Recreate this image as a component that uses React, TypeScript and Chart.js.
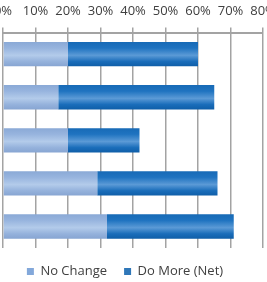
import React, { useEffect, useRef } from "react";
import { Chart, registerables } from "chart.js";

Chart.register(...registerables);

const categories = ["Item 1", "Item 2", "Item 3", "Item 4", "Item 5"];
const seriesNames = ["No Change", "Do More (Net)"];
const noChange = [20, 17, 20, 29, 32];
const doMore = [40, 48, 22, 37, 39];
const xTicks = [0, 10, 20, 30, 40, 50, 60, 70, 80];

const BAR_PCT = 0.565;

const lightStops: [number, string][] = [
  [0, "#8aa9d6"],
  [0.25, "#97b4de"],
  [0.55, "#b3cbea"],
  [0.8, "#95b2dc"],
  [1, "#87a5d2"],
];
const darkStops: [number, string][] = [
  [0, "#176ab6"],
  [0.25, "#1f73c0"],
  [0.55, "#5b9ad6"],
  [0.8, "#1a6dba"],
  [1, "#0f5ea8"],
];

function stripeGradient(chart: any, stops: [number, string][]) {
  const area = chart.chartArea;
  if (!area) return stops[1][1];
  const g = chart.ctx.createLinearGradient(0, area.top, 0, area.bottom);
  const n = categories.length;
  for (let i = 0; i < n; i++) {
    const start = (i + (1 - BAR_PCT) / 2) / n;
    const end = (i + (1 + BAR_PCT) / 2) / n;
    for (const [t, c] of stops) g.addColorStop(start + t * (end - start), c);
  }
  return g;
}

const legendColors = ["#83a8da", "#2f77b8"];

const legendShift = {
  id: "legendShift",
  afterLayout(chart: any) {
    const l = chart.legend;
    if (l) {
      l.left -= 8;
      l.right -= 8;
    }
  },
};

export default function App() {
  const ref = useRef<HTMLCanvasElement | null>(null);

  useEffect(() => {
    document.body.style.margin = "0";
    document.body.style.overflow = "hidden";
    const canvas = ref.current;
    if (!canvas) return;
    const chart = new Chart(canvas, {
      type: "bar",
      data: {
        labels: categories,
        datasets: [
          {
            label: seriesNames[0],
            data: noChange,
            backgroundColor: (ctx: any) => stripeGradient(ctx.chart, lightStops),
            borderWidth: 0,
            barPercentage: BAR_PCT,
            categoryPercentage: 1,
          },
          {
            label: seriesNames[1],
            data: doMore,
            backgroundColor: (ctx: any) => stripeGradient(ctx.chart, darkStops),
            borderWidth: 0,
            barPercentage: BAR_PCT,
            categoryPercentage: 1,
          },
        ],
      },
      plugins: [legendShift],
      options: {
        indexAxis: "y",
        animation: false,
        responsive: true,
        maintainAspectRatio: false,
        layout: { padding: { left: 3, right: 4, top: -6, bottom: -6 } },
        scales: {
          x: {
            position: "top",
            stacked: true,
            min: xTicks[0],
            max: xTicks[xTicks.length - 1],
            afterBuildTicks: (scale: any) => {
              scale.ticks = xTicks.map((v) => ({ value: v }));
            },
            afterFit: (scale: any) => {
              scale.paddingLeft = 0;
              scale.paddingRight = 0;
            },
            grid: {
              color: "#a3a3a3",
              lineWidth: 1.5,
              tickLength: 5,
              drawTicks: true,
            },
            border: { display: true, color: "#a3a3a3", width: 2 },
            ticks: {
              autoSkip: false,
              maxRotation: 0,
              padding: 9,
              color: "#404040",
              font: { family: "Open Sans", size: 13 },
              callback: (v: any) => v + "%",
            },
          },
          y: {
            stacked: true,
            display: false,
          },
        },
        plugins: {
          tooltip: { enabled: false },
          legend: {
            position: "bottom",
            labels: {
              boxWidth: 7,
              boxHeight: 7,
              padding: 17,
              color: "#404040",
              font: { family: "Open Sans", size: 13 },
              generateLabels: (c: any) => {
                const items = Chart.defaults.plugins.legend.labels.generateLabels(c);
                return items.map((it: any, i: number) => ({
                  ...it,
                  fillStyle: legendColors[i],
                  strokeStyle: legendColors[i],
                  lineWidth: 0,
                }));
              },
            },
          },
        },
      },
    });
    return () => chart.destroy();
  }, []);

  return (
    <div style={{ width: 267, height: 282, position: "relative" }}>
      <canvas ref={ref} />
    </div>
  );
}
